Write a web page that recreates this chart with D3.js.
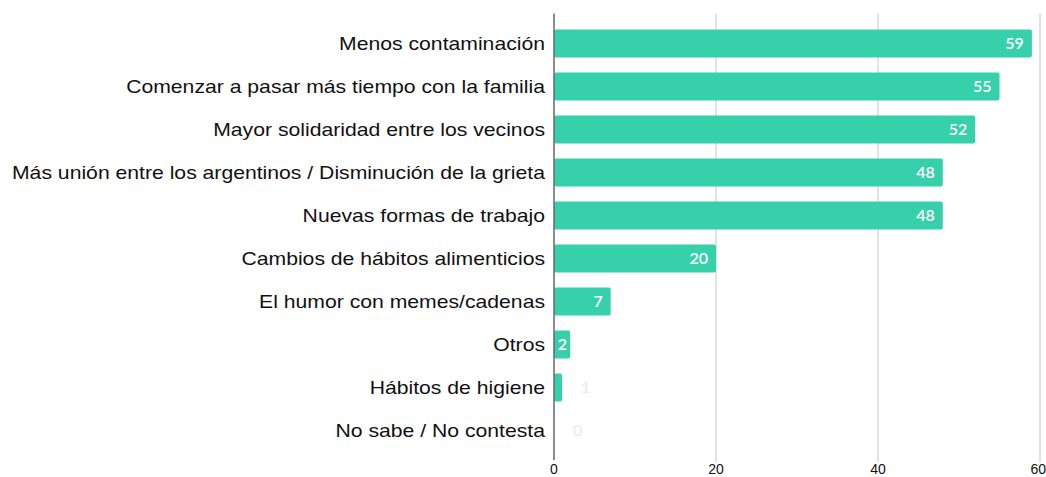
<!DOCTYPE html>
<html><head><meta charset="utf-8">
<script src="https://cdn.jsdelivr.net/npm/d3@7"></script>
<style>body{margin:0;background:#fff;}svg{display:block;}</style>
</head><body>
<svg id="c" width="1046" height="477"></svg>
<script>
const categories = ["Menos contaminación","Comenzar a pasar más tiempo con la familia","Mayor solidaridad entre los vecinos","Más unión entre los argentinos / Disminución de la grieta","Nuevas formas de trabajo","Cambios de hábitos alimenticios","El humor con memes/cadenas","Otros","Hábitos de higiene","No sabe / No contesta"];
const values = [59,55,52,48,48,20,7,2,1,0];
const ticks = [0,20,40,60];

const svg = d3.select("#c");
const x = d3.scaleLinear().domain([0,60]).range([554,1040]);
const y = d3.scaleBand().domain(categories).range([22,452]).paddingInner(0.35).paddingOuter(0.175);

// gridlines
svg.selectAll(".grid").data(ticks.slice(1)).join("line")
  .attr("x1",d=>x(d)).attr("x2",d=>x(d)).attr("y1",13.5).attr("y2",462)
  .attr("stroke","#d9d9d9").attr("stroke-width",1.5);

// bars
svg.selectAll(".bar").data(values).join("rect")
  .attr("x",x(0)).attr("y",(d,i)=>y(categories[i]))
  .attr("width",d=>Math.max(0,x(d)-x(0))).attr("height",y.bandwidth())
  .attr("rx",2).attr("fill","#36d1aa");

// zero axis
svg.append("line").attr("x1",x(0)).attr("x2",x(0)).attr("y1",13.5).attr("y2",460)
  .attr("stroke","#666").attr("stroke-width",1.5);

// category labels (slightly stretched horizontally, like the reference)
svg.selectAll(".cat").data(categories).join("text")
  .attr("transform",d=>`translate(545,${y(d)+y.bandwidth()/2}) scale(1.177,1)`)
  .attr("dy","0.35em")
  .attr("text-anchor","end").attr("font-family","Liberation Sans, Arial, sans-serif")
  .attr("font-size",18).attr("fill","#111").text(d=>d);

// value labels
const inside = d => d >= 2;
svg.selectAll(".val").data(values).join("text")
  .attr("x",d=> inside(d) ? Math.max(x(d)-8, x(0)+13) : x(d)+19)
  .attr("text-anchor",d=> inside(d) ? "end" : "start")
  .attr("y",(d,i)=>y(categories[i])+y.bandwidth()/2).attr("dy","0.36em")
  .attr("font-family","Lato, sans-serif").attr("font-size",16).attr("font-weight",600)
  .attr("fill",d=> inside(d) ? "#fff" : "#ececec")
  .text(d=>d);

// x tick labels
svg.selectAll(".tick").data(ticks).join("text")
  .attr("x",d=>x(d)).attr("y",474).attr("text-anchor",d=> d===60 ? "end" : "middle")
  .attr("dx",d=> d===60 ? 6 : 0)
  .attr("font-family","Liberation Sans, Arial, sans-serif").attr("font-size",14)
  .attr("fill","#111").text(d=>d);
</script>
</body></html>
